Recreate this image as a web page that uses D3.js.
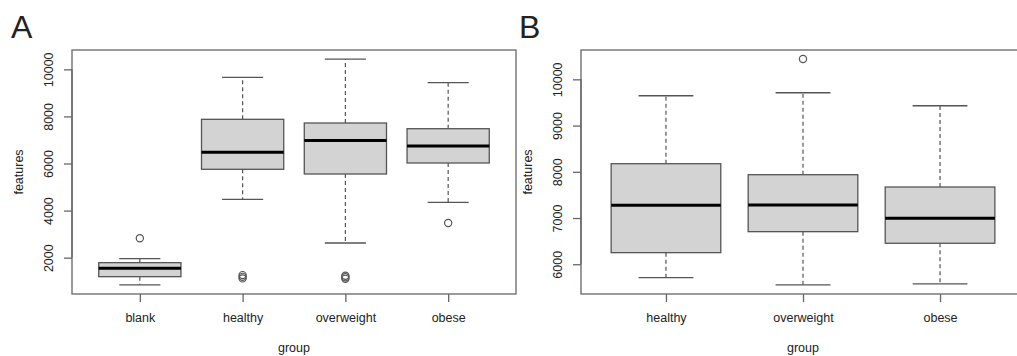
<!DOCTYPE html>
<html>
<head>
<meta charset="utf-8">
<script src="https://cdn.jsdelivr.net/npm/d3@7"></script>
<style>
  body{margin:0;background:#fff;}
  text{font-family:"Liberation Sans",Arial,Helvetica,sans-serif;fill:#222;}
</style>
</head>
<body>
<svg id="chart" width="1017" height="356"></svg>
<script>
// panel A: all groups
var catsA=["blank","healthy","overweight","obese"];
var lowA=[841,4480,2624,4352];
var q1A=[1193,5754,5554,6021];
var medA=[1550,6476,6975,6743];
var q3A=[1788,7877,7720,7478];
var highA=[1958,9660,10437,9431];
var outA=[[2824],[1120,1185,1260],[1100,1170,1230],[3473]];
var ticksA=[2000,4000,6000,8000,10000];

// panel B: without blanks
var catsB=["healthy","overweight","obese"];
var lowB=[5710,5552,5574];
var q1B=[6251,6705,6454];
var medB=[7276,7282,6995];
var q3B=[8175,7937,7671];
var highB=[9645,9710,9429];
var outB=[[],[10439],[]];
var ticksB=[6000,7000,8000,9000,10000];

var svg=d3.select("#chart");

function panel(o){
  var n=o.cats.length;
  var g=svg.append("g");
  // R style ranges: extend by 4%
  var all=o.low.concat(o.high,d3.merge(o.out));
  var lo=d3.min(all),hi=d3.max(all),pad=(hi-lo)*0.04;
  var yScale=d3.scaleLinear()
               .domain([lo-pad,hi+pad])
               .range([o.bottom,o.top]);
  var xpad=n*0.04;
  var xScale=d3.scaleLinear()
               .domain([0.5-xpad,n+0.5+xpad])
               .range([o.left,o.left+o.width]);
  var unit=xScale(1)-xScale(0);
  var idx=d3.range(n);

  // whiskers
  g.selectAll(".wu").data(idx).enter().append("line")
   .attr("x1",function(i){return xScale(i+1);})
   .attr("x2",function(i){return xScale(i+1);})
   .attr("y1",function(i){return yScale(o.q3[i]);})
   .attr("y2",function(i){return yScale(o.high[i]);})
   .attr("stroke","#555").attr("stroke-width",1.2).attr("stroke-dasharray","4,3");
  g.selectAll(".wl").data(idx).enter().append("line")
   .attr("x1",function(i){return xScale(i+1);})
   .attr("x2",function(i){return xScale(i+1);})
   .attr("y1",function(i){return yScale(o.q1[i]);})
   .attr("y2",function(i){return yScale(o.low[i]);})
   .attr("stroke","#555").attr("stroke-width",1.2).attr("stroke-dasharray","4,3");
  // staples
  [o.high,o.low].forEach(function(arr){
    g.selectAll(null).data(idx).enter().append("line")
     .attr("x1",function(i){return xScale(i+1-0.2);})
     .attr("x2",function(i){return xScale(i+1+0.2);})
     .attr("y1",function(i){return yScale(arr[i]);})
     .attr("y2",function(i){return yScale(arr[i]);})
     .attr("stroke","#555").attr("stroke-width",1.3);
  });
  // boxes
  g.selectAll(".box").data(idx).enter().append("rect")
   .attr("x",function(i){return xScale(i+1-0.4);})
   .attr("width",unit*0.8)
   .attr("y",function(i){return yScale(o.q3[i]);})
   .attr("height",function(i){return yScale(o.q1[i])-yScale(o.q3[i]);})
   .attr("fill","#d3d3d3").attr("stroke","#555").attr("stroke-width",1.3);
  // medians
  g.selectAll(".med").data(idx).enter().append("line")
   .attr("x1",function(i){return xScale(i+1-0.4);})
   .attr("x2",function(i){return xScale(i+1+0.4);})
   .attr("y1",function(i){return yScale(o.med[i]);})
   .attr("y2",function(i){return yScale(o.med[i]);})
   .attr("stroke","#000").attr("stroke-width",3);
  // outliers
  var pts=[];
  o.out.forEach(function(arr,i){arr.forEach(function(v){pts.push([i,v]);});});
  g.selectAll(".out").data(pts).enter().append("circle")
   .attr("cx",function(d){return xScale(d[0]+1);})
   .attr("cy",function(d){return yScale(d[1]);})
   .attr("r",3.6)
   .attr("fill","none").attr("stroke","#555").attr("stroke-width",1.2);

  // frame
  g.append("rect")
   .attr("x",o.left).attr("y",o.top)
   .attr("width",o.width).attr("height",o.bottom-o.top)
   .attr("fill","none").attr("stroke","#666").attr("stroke-width",1.3);

  // y axis
  var yAxis=d3.axisLeft(yScale).tickValues(o.ticks).tickSize(8).tickFormat(d3.format("d"));
  var ya=g.append("g")
   .attr("transform","translate("+o.left+",0)")
   .call(yAxis);
  ya.select(".domain").attr("d","M0,"+yScale(o.ticks[0])+"V"+yScale(o.ticks[o.ticks.length-1]))
    .attr("stroke","#666").attr("stroke-width",1.3);
  ya.selectAll(".tick line").attr("stroke","#666").attr("stroke-width",1.3);
  ya.selectAll(".tick text")
    .attr("x",0).attr("dy",null)
    .attr("transform","translate(-19,0) rotate(-90)")
    .attr("text-anchor","middle")
    .style("font-size","12.5px")
    .attr("fill","#222");

  // x axis
  var xAxis=d3.axisBottom(xScale).tickValues(idx.map(function(i){return i+1;}))
              .tickSize(8).tickFormat(function(d){return o.cats[d-1];});
  var xa=g.append("g")
   .attr("transform","translate(0,"+o.bottom+")")
   .call(xAxis);
  xa.select(".domain").remove();
  xa.selectAll(".tick line").attr("stroke","#666").attr("stroke-width",1.3);
  xa.selectAll(".tick text")
    .attr("y",27.5).attr("dy",null)
    .style("font-size","12.5px")
    .attr("fill","#222");

  // axis titles
  g.append("text")
   .attr("transform","translate("+(o.left-49)+","+((o.top+o.bottom)/2)+") rotate(-90)")
   .attr("text-anchor","middle")
   .style("font-size","12.5px")
   .text("features");
  g.append("text")
   .attr("x",o.left+o.width/2)
   .attr("y",352)
   .attr("text-anchor","middle")
   .style("font-size","12.5px")
   .text("group");
  // panel letter
  g.append("text")
   .attr("x",o.letterX).attr("y",38)
   .style("font-size","32px")
   .attr("fill","#000")
   .text(o.letter);
}

panel({cats:catsA,low:lowA,q1:q1A,med:medA,q3:q3A,high:highA,out:outA,ticks:ticksA,
       left:72,width:444,top:50,bottom:294,letter:"A",letterX:11});
panel({cats:catsB,low:lowB,q1:q1B,med:medB,q3:q3B,high:highB,out:outB,ticks:ticksB,
       left:581,width:444,top:50,bottom:294,letter:"B",letterX:519});
</script>
</body>
</html>
